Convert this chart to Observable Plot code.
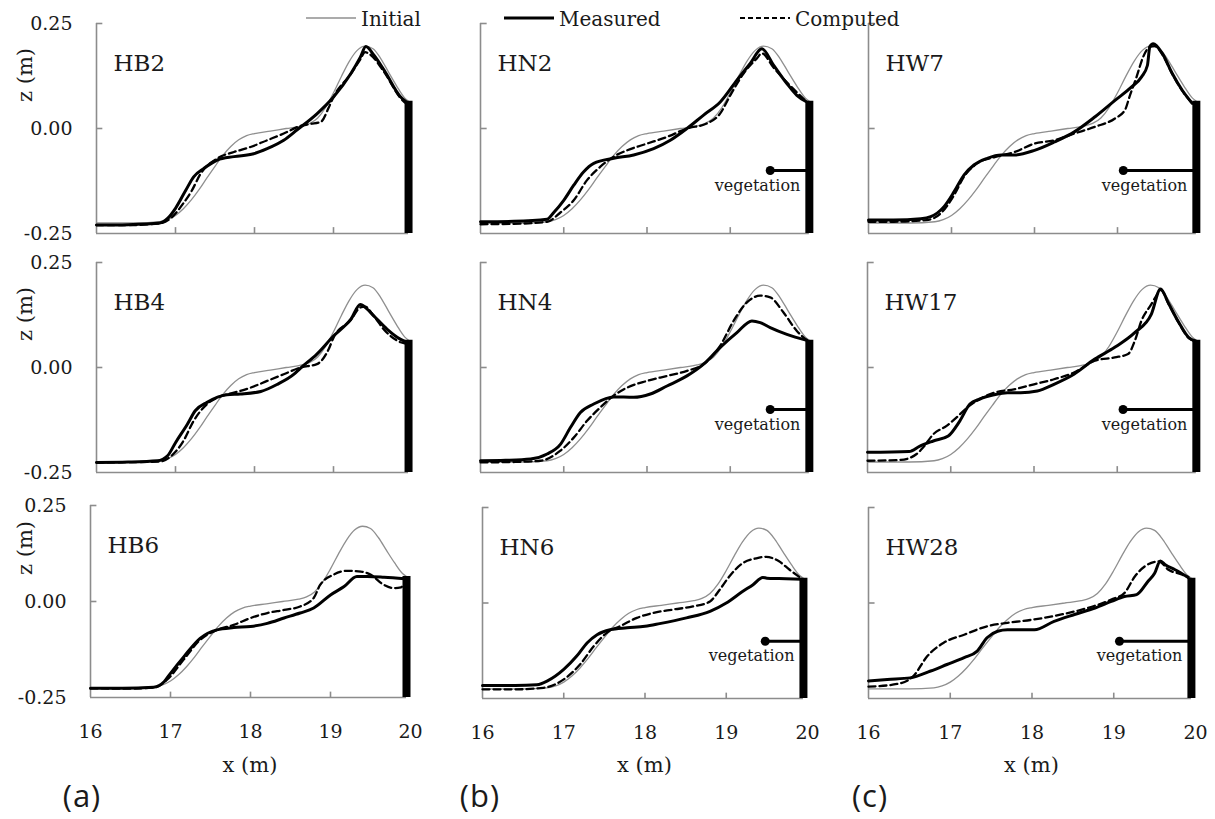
<!DOCTYPE html>
<html>
<head>
<meta charset="utf-8">
<script src="https://cdn.jsdelivr.net/npm/d3@7"></script>
<script src="https://cdn.jsdelivr.net/npm/@observablehq/plot@0.6"></script>
<style>
  body { margin: 0; background: #fff; }
  #fig { position: relative; width: 1215px; height: 819px; overflow: hidden;
         font-family: "DejaVu Serif", serif; color: #1a1a1a; background: #fff; }
  #fig svg { position: absolute; max-width: none; }
  .lbl { position: absolute; white-space: nowrap; transform: translate(-50%, -50%); line-height: 1; }
  .leg { position: absolute; white-space: nowrap; font-size: 20px; line-height: 1; transform: translateY(-50%); }
  .tag { font-family: "Open Sans", sans-serif; font-size: 31px; letter-spacing: 1px; }
</style>
</head>
<body>
<div id="fig"></div>
<script>
// ---- axis ticks ----
const xTicks = [16, 17, 18, 19, 20];
const yTicks = [-0.25, 0, 0.25];

// ---- sea wall and vegetation patch ----
const wallX = 19.95;
const wallTop = 0.065;
const vegetationZ = -0.1;
const vegetationStart = { HN: 19.48, HW: 19.07 };

// ---- initial beach profile (same for every test) [x (m), z (m)] ----
const initialProfile = [[16.0,-0.225],[16.5,-0.225],[16.8,-0.222],[16.9,-0.217],[17.0,-0.207],[17.1,-0.191],
  [17.2,-0.17],[17.3,-0.145],[17.4,-0.117],[17.5,-0.09],[17.6,-0.064],[17.7,-0.043],[17.8,-0.027],[17.9,-0.017],
  [18.0,-0.012],[18.2,-0.006],[18.4,0.0],[18.6,0.006],[18.7,0.012],[18.8,0.025],[18.9,0.05],[19.0,0.085],
  [19.1,0.124],[19.2,0.16],[19.3,0.186],[19.4,0.196],[19.5,0.19],[19.6,0.166],[19.7,0.133],[19.8,0.101],
  [19.9,0.073],[19.95,0.065]];

// ---- bare beach ----
const hb2Measured = [[16.0,-0.23],[16.4,-0.229],[16.8,-0.225],[16.9,-0.214],[17.0,-0.19],[17.13,-0.147],[17.23,-0.115],
  [17.36,-0.095],[17.53,-0.075],[17.74,-0.067],[17.99,-0.06],[18.16,-0.048],[18.37,-0.028],[18.54,-0.003],[18.79,0.035],
  [19.0,0.075],[19.22,0.131],[19.34,0.17],[19.41,0.195],[19.51,0.175],[19.64,0.139],[19.85,0.075],[19.93,0.062]];
const hb2Computed = [[16.0,-0.23],[16.4,-0.23],[16.8,-0.226],[16.95,-0.212],[17.1,-0.178],[17.2,-0.15],[17.32,-0.107],
  [17.53,-0.071],[17.74,-0.056],[17.95,-0.044],[18.16,-0.028],[18.37,-0.012],[18.58,0.006],[18.71,0.011],[18.84,0.016],
  [18.94,0.05],[19.0,0.075],[19.22,0.13],[19.34,0.165],[19.4,0.182],[19.45,0.178],[19.64,0.135],[19.85,0.072],[19.93,0.058]];
const hb4Measured = [[16.0,-0.226],[16.4,-0.225],[16.77,-0.222],[16.9,-0.21],[17.0,-0.179],[17.15,-0.135],[17.25,-0.103],
  [17.4,-0.083],[17.65,-0.065],[17.82,-0.063],[18.08,-0.057],[18.29,-0.04],[18.5,-0.016],[18.58,-0.002],[18.79,0.032],
  [19.0,0.075],[19.22,0.115],[19.34,0.15],[19.42,0.14],[19.51,0.123],[19.68,0.091],[19.85,0.067],[19.93,0.06]];
const hb4Computed = [[16.0,-0.226],[16.8,-0.224],[16.95,-0.21],[17.1,-0.175],[17.23,-0.127],[17.4,-0.087],[17.55,-0.07],
  [17.74,-0.06],[17.95,-0.048],[18.16,-0.032],[18.37,-0.016],[18.58,0.0],[18.79,0.008],[18.94,0.044],[19.0,0.071],
  [19.22,0.113],[19.34,0.143],[19.4,0.145],[19.5,0.125],[19.64,0.09],[19.85,0.06],[19.93,0.056]];
const hb6Measured = [[16.0,-0.226],[16.4,-0.226],[16.79,-0.223],[16.92,-0.209],[17.0,-0.187],[17.17,-0.143],[17.37,-0.096],
  [17.58,-0.074],[17.79,-0.068],[18.0,-0.065],[18.21,-0.057],[18.42,-0.043],[18.62,-0.03],[18.79,-0.017],[19.0,0.017],
  [19.17,0.039],[19.33,0.065],[19.46,0.065],[19.67,0.063],[19.93,0.059]];
const hb6Computed = [[16.0,-0.226],[16.4,-0.227],[16.8,-0.224],[16.95,-0.205],[17.17,-0.15],[17.37,-0.1],[17.58,-0.074],
  [17.79,-0.061],[18.0,-0.043],[18.21,-0.03],[18.42,-0.022],[18.62,-0.013],[18.79,0.009],[18.87,0.043],[19.04,0.07],
  [19.21,0.08],[19.38,0.078],[19.5,0.07],[19.67,0.043],[19.79,0.035],[19.88,0.037],[19.93,0.05]];

// ---- narrow vegetation belt ----
const hn2Measured = [[16.0,-0.222],[16.4,-0.221],[16.8,-0.216],[16.88,-0.2],[17.0,-0.171],[17.12,-0.135],[17.24,-0.103],
  [17.36,-0.083],[17.6,-0.071],[17.84,-0.063],[18.08,-0.048],[18.28,-0.028],[18.48,0.0],[18.68,0.032],[18.88,0.063],
  [19.08,0.115],[19.24,0.155],[19.38,0.19],[19.52,0.151],[19.68,0.107],[19.8,0.079],[19.92,0.063]];
const hn2Computed = [[16.0,-0.228],[16.4,-0.227],[16.8,-0.222],[16.96,-0.2],[17.12,-0.171],[17.28,-0.123],[17.44,-0.091],
  [17.6,-0.067],[17.76,-0.052],[18.0,-0.036],[18.24,-0.02],[18.48,0.0],[18.72,0.012],[18.88,0.036],[19.0,0.079],
  [19.16,0.131],[19.32,0.167],[19.38,0.179],[19.52,0.145],[19.68,0.11],[19.92,0.063]];
const hn4Measured = [[16.0,-0.222],[16.3,-0.221],[16.6,-0.218],[16.8,-0.206],[16.96,-0.183],[17.08,-0.143],[17.2,-0.107],
  [17.36,-0.087],[17.6,-0.07],[17.84,-0.071],[18.04,-0.063],[18.24,-0.044],[18.48,-0.02],[18.68,0.008],[18.88,0.048],
  [19.08,0.083],[19.26,0.111],[19.36,0.107],[19.48,0.095],[19.68,0.079],[19.92,0.065]];
const hn4Computed = [[16.0,-0.226],[16.4,-0.225],[16.72,-0.222],[16.96,-0.198],[17.12,-0.167],[17.28,-0.127],[17.44,-0.095],
  [17.6,-0.067],[17.76,-0.048],[18.0,-0.032],[18.24,-0.02],[18.48,-0.008],[18.68,0.008],[18.88,0.052],[19.04,0.111],
  [19.2,0.155],[19.36,0.171],[19.48,0.167],[19.64,0.131],[19.8,0.087],[19.92,0.065]];
const hn6Measured = [[16.0,-0.216],[16.4,-0.216],[16.67,-0.214],[16.8,-0.204],[17.0,-0.174],[17.16,-0.139],[17.29,-0.104],
  [17.41,-0.083],[17.57,-0.07],[17.78,-0.065],[18.0,-0.061],[18.18,-0.054],[18.51,-0.039],[18.8,-0.022],[19.0,0.0],
  [19.2,0.03],[19.33,0.048],[19.45,0.067],[19.5,0.065],[19.65,0.064],[19.93,0.062]];
const hn6Computed = [[16.0,-0.226],[16.4,-0.226],[16.75,-0.222],[17.0,-0.2],[17.2,-0.161],[17.37,-0.113],[17.53,-0.078],
  [17.69,-0.061],[17.9,-0.039],[18.1,-0.026],[18.35,-0.017],[18.59,-0.009],[18.8,0.004],[18.92,0.035],[19.04,0.07],
  [19.2,0.104],[19.37,0.117],[19.49,0.121],[19.65,0.109],[19.78,0.087],[19.92,0.065]];

// ---- wide vegetation belt ----
const hw7Measured = [[16.0,-0.218],[16.3,-0.218],[16.63,-0.215],[16.75,-0.21],[16.91,-0.186],[17.03,-0.151],[17.15,-0.111],
  [17.27,-0.087],[17.43,-0.071],[17.6,-0.063],[17.76,-0.063],[18.0,-0.052],[18.24,-0.032],[18.48,-0.008],[18.73,0.028],
  [18.97,0.067],[19.17,0.099],[19.29,0.123],[19.36,0.15],[19.39,0.195],[19.43,0.202],[19.54,0.179],[19.66,0.131],
  [19.78,0.091],[19.9,0.06]];
const hw7Computed = [[16.0,-0.222],[16.3,-0.222],[16.7,-0.218],[16.87,-0.202],[17.03,-0.159],[17.15,-0.115],[17.31,-0.083],
  [17.52,-0.068],[17.76,-0.056],[18.0,-0.036],[18.24,-0.028],[18.48,-0.012],[18.73,0.004],[18.97,0.024],[19.09,0.044],
  [19.15,0.079],[19.23,0.123],[19.31,0.171],[19.39,0.194],[19.45,0.196],[19.54,0.176],[19.66,0.13],[19.78,0.09],[19.9,0.06]];
const hw17Measured = [[16.0,-0.202],[16.5,-0.2],[16.63,-0.187],[16.79,-0.175],[16.97,-0.163],[17.11,-0.127],[17.23,-0.087],
  [17.35,-0.075],[17.52,-0.065],[17.68,-0.06],[17.84,-0.06],[18.04,-0.056],[18.24,-0.04],[18.48,-0.016],[18.73,0.02],
  [18.97,0.048],[19.21,0.083],[19.41,0.127],[19.52,0.187],[19.62,0.151],[19.74,0.107],[19.86,0.071],[19.94,0.063]];
const hw17Computed = [[16.0,-0.222],[16.4,-0.22],[16.59,-0.206],[16.67,-0.19],[16.79,-0.159],[16.95,-0.139],[17.07,-0.119],
  [17.2,-0.095],[17.35,-0.075],[17.52,-0.06],[17.76,-0.052],[18.0,-0.04],[18.24,-0.028],[18.48,-0.012],[18.73,0.016],
  [18.97,0.024],[19.13,0.032],[19.21,0.063],[19.29,0.111],[19.41,0.151],[19.47,0.171],[19.52,0.185],[19.62,0.15],
  [19.74,0.106],[19.86,0.07],[19.94,0.063]];
const hw28Measured = [[16.0,-0.204],[16.23,-0.2],[16.51,-0.196],[16.76,-0.178],[16.96,-0.161],[17.17,-0.143],[17.33,-0.126],
  [17.45,-0.091],[17.58,-0.074],[17.7,-0.07],[17.86,-0.07],[18.03,-0.07],[18.27,-0.048],[18.52,-0.03],[18.77,-0.013],
  [18.97,0.004],[19.13,0.017],[19.28,0.022],[19.42,0.057],[19.5,0.078],[19.57,0.11],[19.63,0.1],[19.75,0.087],[19.91,0.067]];
const hw28Computed = [[16.0,-0.219],[16.35,-0.212],[16.55,-0.191],[16.72,-0.139],[16.92,-0.104],[17.17,-0.083],[17.45,-0.061],
  [17.7,-0.052],[18.03,-0.043],[18.36,-0.03],[18.68,-0.013],[18.97,0.009],[19.13,0.026],[19.26,0.07],[19.38,0.096],
  [19.55,0.109],[19.67,0.087],[19.84,0.074],[19.91,0.067]];

// panels by row (test stage) and column (beach type)
const panels = [
  [{name: "HB2", measured: hb2Measured, computed: hb2Computed, veg: null},
   {name: "HN2", measured: hn2Measured, computed: hn2Computed, veg: "HN"},
   {name: "HW7", measured: hw7Measured, computed: hw7Computed, veg: "HW"}],
  [{name: "HB4", measured: hb4Measured, computed: hb4Computed, veg: null},
   {name: "HN4", measured: hn4Measured, computed: hn4Computed, veg: "HN"},
   {name: "HW17", measured: hw17Measured, computed: hw17Computed, veg: "HW"}],
  [{name: "HB6", measured: hb6Measured, computed: hb6Computed, veg: null},
   {name: "HN6", measured: hn6Measured, computed: hn6Computed, veg: "HN"},
   {name: "HW28", measured: hw28Measured, computed: hw28Computed, veg: "HW"}]
];

// page layout: plot frame of each panel [left, right, top, bottom] in px
const frames = [
  [[96, 412, 23, 233], [480, 813, 23, 233], [868, 1200, 23, 233]],
  [[96, 412, 262, 472], [480, 813, 262, 472], [867, 1200, 262, 472]],
  [[90, 410, 505, 697], [482, 807, 507, 698], [868, 1195, 507, 698]]
];
const columnTags = ["(a)", "(b)", "(c)"];
const tagX = [82, 480, 870];

const axisGray = "#8c8c8c";
const ink = "#1a1a1a";
const fig = document.getElementById("fig");
const M = {left: 80, right: 14, top: 14, bottom: 50};

function drawPanel(p, frame, showY, showX) {
  const [left, right, top, bottom] = frame;
  const marks = [
    // axis lines and inward ticks
    Plot.ruleX([16], {y1: -0.25, y2: 0.25, stroke: axisGray, strokeWidth: 1.6}),
    Plot.ruleY([-0.25], {x1: 16, x2: wallX, stroke: axisGray, strokeWidth: 1.6}),
    Plot.ruleY(yTicks.filter(d => d > -0.25), {x1: 16, x2: 16.08, stroke: axisGray, strokeWidth: 1.6}),
    Plot.ruleX(xTicks.filter(d => d > 16 && d < 20), {y1: -0.25, y2: -0.236, stroke: axisGray, strokeWidth: 1.6}),
    // profiles
    Plot.line(initialProfile, {stroke: "#8f8f8f", strokeWidth: 1.3, curve: "monotone-x"}),
    Plot.line(p.computed, {stroke: "#000", strokeWidth: 2.3, strokeDasharray: "7,4", curve: "monotone-x"}),
    Plot.line(p.measured, {stroke: "#000", strokeWidth: 3, curve: "monotone-x"}),
    // sea wall
    Plot.ruleX([wallX], {y1: -0.25, y2: wallTop, stroke: "#000", strokeWidth: 8}),
    // test name
    Plot.text([p.name], {frameAnchor: "top-left", dx: 17, dy: 40, textAnchor: "start", lineAnchor: "middle",
      fontSize: 23, fill: ink})
  ];
  if (p.veg) {
    const x0 = vegetationStart[p.veg];
    marks.push(
      Plot.ruleY([vegetationZ], {x1: x0, x2: wallX, stroke: "#000", strokeWidth: 3}),
      Plot.dot([[x0, vegetationZ]], {r: 4.5, fill: "#000", stroke: null}),
      Plot.text(["vegetation"], {x: () => wallX, y: () => vegetationZ, textAnchor: "end", dx: -9, dy: 15,
        fontSize: 16, fill: ink})
    );
  }
  if (showY) marks.push(Plot.axisY({ticks: yTicks, tickSize: 0, tickPadding: 24, fontSize: 19,
    tickFormat: d => d.toFixed(2), label: null, fill: ink}));
  if (showX) marks.push(Plot.axisX({ticks: xTicks, tickSize: 0, tickPadding: 27, fontSize: 19,
    tickFormat: d => String(d), label: null, fill: ink}));

  const svg = Plot.plot({
    width: right - left + M.left + M.right,
    height: bottom - top + M.top + M.bottom,
    marginLeft: M.left, marginRight: M.right, marginTop: M.top, marginBottom: M.bottom,
    x: {domain: [16, 20], axis: showX ? undefined : null},
    y: {domain: [-0.25, 0.25], axis: showY ? undefined : null},
    style: {background: "transparent", overflow: "visible", fontFamily: "DejaVu Serif, serif", color: ink},
    marks
  });
  svg.style.left = (left - M.left) + "px";
  svg.style.top = (top - M.top) + "px";
  fig.appendChild(svg);
}

function label(text, x, y, cls, extra) {
  const d = document.createElement("div");
  d.className = "lbl" + (cls ? " " + cls : "");
  d.textContent = text;
  d.style.left = x + "px";
  d.style.top = y + "px";
  if (extra) Object.assign(d.style, extra);
  fig.appendChild(d);
  return d;
}

panels.forEach((row, r) => row.forEach((p, c) => {
  drawPanel(p, frames[r][c], c === 0, r === 2);
}));

// axis titles
frames.forEach((row, r) => {
  const [, , top, bottom] = row[0];
  label("z (m)", 25, (top + bottom) / 2 - 53, null,
    {fontSize: "21px", transform: "translate(-50%, -50%) rotate(-90deg)"});
});
frames[2].forEach(([left, right, , bottom], c) => {
  label("x (m)", (left + right) / 2, 765, null, {fontSize: "21px"});
  label(columnTags[c], tagX[c], 795, "tag");
});

// legend
const legendItems = [
  {text: "Initial", x: 306, stroke: "#8f8f8f", width: 1.5, dash: null},
  {text: "Measured", x: 504, stroke: "#000", width: 3, dash: null},
  {text: "Computed", x: 740, stroke: "#000", width: 2, dash: "5,3"}
];
legendItems.forEach(it => {
  const ns = "http://www.w3.org/2000/svg";
  const s = document.createElementNS(ns, "svg");
  s.setAttribute("width", 50); s.setAttribute("height", 8);
  s.style.left = it.x + "px"; s.style.top = "14px";
  const l = document.createElementNS(ns, "line");
  l.setAttribute("x1", 0); l.setAttribute("x2", 50); l.setAttribute("y1", 4); l.setAttribute("y2", 4);
  l.setAttribute("stroke", it.stroke); l.setAttribute("stroke-width", it.width);
  if (it.dash) l.setAttribute("stroke-dasharray", it.dash);
  s.appendChild(l);
  fig.appendChild(s);
  const t = document.createElement("div");
  t.className = "leg";
  t.textContent = it.text;
  t.style.left = (it.x + 55) + "px";
  t.style.top = "19px";
  fig.appendChild(t);
});
</script>
</body>
</html>
